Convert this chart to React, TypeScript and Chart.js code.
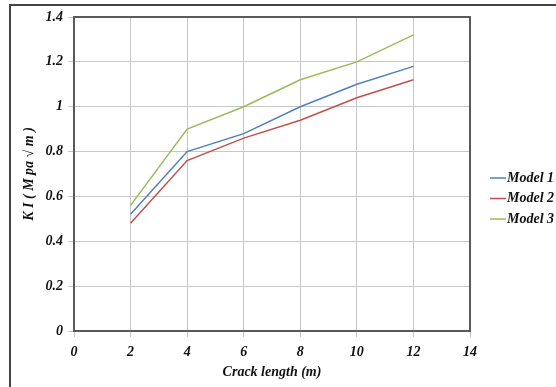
import React, { useEffect, useRef } from "react";
import { Chart, registerables } from "chart.js";

Chart.register(...registerables);

const crackLength = [2, 4, 6, 8, 10, 12];
const model1 = [0.52, 0.8, 0.88, 1.0, 1.1, 1.18];
const model2 = [0.48, 0.76, 0.86, 0.94, 1.04, 1.12];
const model3 = [0.56, 0.9, 1.0, 1.12, 1.2, 1.32];
const seriesNames = ["Model 1", "Model 2", "Model 3"];
const seriesColors = ["#4f81bd", "#c0504d", "#9bbb59"];

const FONT = "'Liberation Serif', 'Times New Roman', serif";

const frameLegend = {
  id: "frameLegend",
  afterDraw(chart: any) {
    const { ctx, chartArea } = chart;
    ctx.save();
    ctx.strokeStyle = "#5a5a5a";
    ctx.lineWidth = 2;
    ctx.strokeRect(chartArea.left, chartArea.top, chartArea.right - chartArea.left, chartArea.bottom - chartArea.top);
    ctx.font = `italic bold 14px ${FONT}`;
    ctx.textBaseline = "middle";
    ctx.textAlign = "left";
    chart.data.datasets.forEach((ds: any, i: number) => {
      const y = 178 + 20.5 * i;
      ctx.strokeStyle = ds.borderColor;
      ctx.lineWidth = 1.5;
      ctx.beginPath();
      ctx.moveTo(490, y);
      ctx.lineTo(506, y);
      ctx.stroke();
      ctx.fillStyle = "#111";
      ctx.fillText(ds.label, 507, y);
    });
    ctx.restore();
  },
};

export default function App() {
  const ref = useRef<HTMLCanvasElement>(null);
  useEffect(() => {
    const values = [model1, model2, model3];
    const chart = new Chart(ref.current!, {
      type: "line",
      data: {
        datasets: values.map((vals, i) => ({
          label: seriesNames[i],
          data: crackLength.map((x, j) => ({ x, y: vals[j] })),
          borderColor: seriesColors[i],
          backgroundColor: seriesColors[i],
          borderWidth: 1.5,
          pointRadius: 0,
          tension: 0,
        })),
      },
      options: {
        animation: false,
        responsive: false,
        layout: { padding: { top: 17, right: 86, left: 21, bottom: 0 } },
        plugins: { legend: { display: false }, tooltip: { enabled: false } },
        scales: {
          x: {
            type: "linear",
            min: 0,
            max: 14,
            ticks: {
              stepSize: 2,
              padding: 7,
              color: "#111",
              font: { family: FONT, size: 14, style: "italic", weight: "bold" },
            },
            grid: { color: "#c8c8c8", lineWidth: 1, tickLength: 6 },
            border: { display: false },
            title: {
              display: true,
              text: "Crack length (m)",
              color: "#111",
              padding: { top: 2, bottom: 6 },
              font: { family: FONT, size: 14, style: "italic", weight: "bold" },
            },
            afterFit(scale: any) {
              scale.height = 56;
            },
          },
          y: {
            type: "linear",
            min: 0,
            max: 1.4,
            ticks: {
              stepSize: 0.2,
              padding: 5,
              color: "#111",
              font: { family: FONT, size: 14, style: "italic", weight: "bold" },
              callback: (v: any) => String(Number(Number(v).toFixed(1))),
            },
            grid: { color: "#c8c8c8", lineWidth: 1, tickLength: 6 },
            border: { display: false },
            title: {
              display: true,
              text: "K I ( M pa √ m )",
              color: "#111",
              padding: { top: 0, bottom: 6 },
              font: { family: FONT, size: 14, style: "italic", weight: "bold" },
            },
            afterFit(scale: any) {
              scale.width = 53;
            },
          },
        },
      },
      plugins: [frameLegend],
    });
    return () => chart.destroy();
  }, []);
  return (
    <div style={{ position: "absolute", left: 0, top: 0, width: 556, height: 387, overflow: "hidden", background: "#fff" }}>
      <div
        style={{
          position: "absolute",
          left: 9,
          top: 4,
          width: 600,
          height: 400,
          borderLeft: "2px solid #444",
          borderTop: "2px solid #444",
        }}
      />
      <canvas ref={ref} width={556} height={387} style={{ position: "absolute", left: 0, top: 0 }} />
    </div>
  );
}
